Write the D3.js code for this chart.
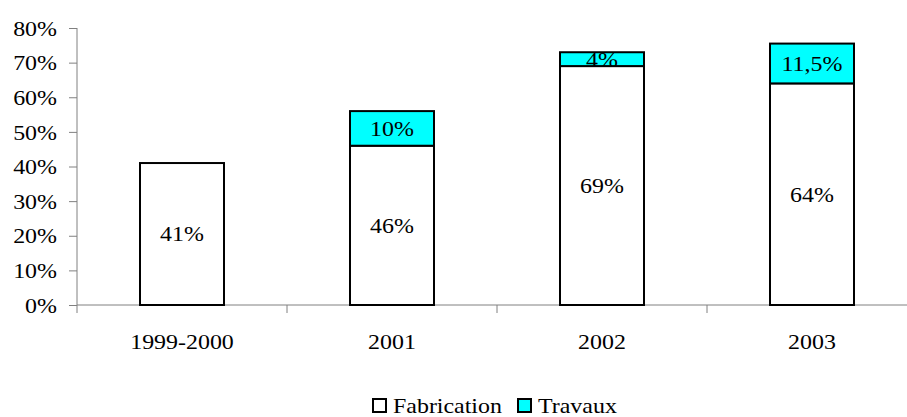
<html>
<head>
    <style>
        body { margin: 0; background: #fff; }
        text { font-family: "Times New Roman", Times, "Liberation Serif", Tinos, serif; font-size: 21px; fill: #000; }
    </style>
    <script src="https://d3js.org/d3.v7.min.js"></script>
</head>
<body>
    <svg width="907" height="417"></svg>
    <script>
        var categories = ["1999-2000", "2001", "2002", "2003"];
        var fabrication = [0.41, 0.46, 0.69, 0.64];
        var travaux = [null, 0.10, 0.04, 0.115];
        var fabLabels = ["41%", "46%", "69%", "64%"];
        var travLabels = ["", "10%", "4%", "11,5%"];
        var yTicks = [0, 0.1, 0.2, 0.3, 0.4, 0.5, 0.6, 0.7, 0.8];

        var svg = d3.select("svg");
        var stretch = "scale(1.14,1)";

        var x = d3.scaleBand()
                  .domain(categories)
                  .range([77, 917])
                  .paddingInner(0.6)
                  .paddingOuter(0.3);

        var y = d3.scaleLinear()
                  .domain([0, 0.8])
                  .range([305, 28]);

        // y axis
        var yAxis = svg.append("g")
                       .attr("transform", "translate(77,0)")
                       .attr("font-family", null)
                       .attr("font-size", null)
                       .call(d3.axisLeft(y).tickValues(yTicks).tickFormat(d3.format(".0%")).tickSize(8));
        yAxis.attr("font-family", null).attr("font-size", null);
        yAxis.select(".domain").attr("stroke", "#808080").attr("d", "M0," + y(0.8) + "V" + (y(0) + 8));
        yAxis.selectAll(".tick line").attr("stroke", "#808080");
        yAxis.selectAll(".tick text")
             .attr("x", null)
             .attr("dy", "0.34em")
             .attr("transform", "translate(-20,0) " + stretch);

        // x axis line and boundary ticks
        var step = x.step();
        var bounds = categories.map(function(c) { return x(c) - step * 0.3; });
        bounds.push(bounds[bounds.length - 1] + step);
        svg.append("line")
           .attr("x1", 77).attr("x2", bounds[bounds.length - 1])
           .attr("y1", y(0)).attr("y2", y(0))
           .attr("stroke", "#808080");
        svg.selectAll(".xtick")
           .data(bounds.slice(1))
           .enter().append("line")
           .attr("x1", function(d) { return d; }).attr("x2", function(d) { return d; })
           .attr("y1", y(0)).attr("y2", y(0) + 8)
           .attr("stroke", "#808080");
        svg.selectAll(".xlabel")
           .data(categories)
           .enter().append("text")
           .attr("text-anchor", "middle")
           .attr("transform", function(d) { return "translate(" + (x(d) + x.bandwidth() / 2) + ",349) " + stretch; })
           .text(function(d) { return d; });

        // bars
        var g = svg.append("g");
        categories.forEach(function(c, i) {
            var f = fabrication[i], t = travaux[i];
            var cx = x(c) + x.bandwidth() / 2;
            g.append("rect")
             .attr("x", x(c)).attr("width", x.bandwidth())
             .attr("y", y(f)).attr("height", y(0) - y(f))
             .attr("fill", "#fff").attr("stroke", "#000").attr("stroke-width", 2);
            g.append("text")
             .attr("text-anchor", "middle")
             .attr("dy", "0.35em")
             .attr("transform", "translate(" + cx + "," + ((y(f) + y(0)) / 2) + ") " + stretch)
             .text(fabLabels[i]);
            if (t) {
                g.append("rect")
                 .attr("x", x(c)).attr("width", x.bandwidth())
                 .attr("y", y(f + t)).attr("height", y(f) - y(f + t))
                 .attr("fill", "#00ffff").attr("stroke", "#000").attr("stroke-width", 2);
                g.append("text")
                 .attr("text-anchor", "middle")
                 .attr("dy", "0.35em")
                 .attr("transform", "translate(" + cx + "," + ((y(f) + y(f + t)) / 2) + ") " + stretch)
                 .text(travLabels[i]);
            }
        });

        // legend
        var legend = [["Fabrication", "#fff", 373], ["Travaux", "#00ffff", 518]];
        legend.forEach(function(l) {
            svg.append("rect")
               .attr("x", l[2]).attr("y", 399).attr("width", 13).attr("height", 13)
               .attr("fill", l[1]).attr("stroke", "#000").attr("stroke-width", 2);
            svg.append("text")
               .attr("transform", "translate(" + (l[2] + 20) + ",413) " + stretch)
               .text(l[0]);
        });
    </script>
</body>
</html>
